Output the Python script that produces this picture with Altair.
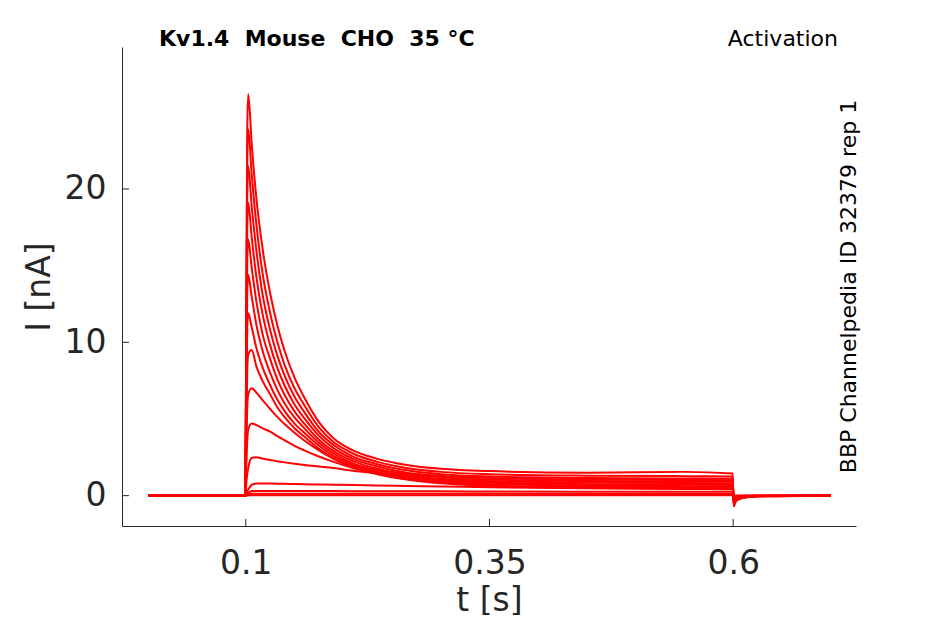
import altair as alt
import pandas as pd


# sample times (s) along the sweep
time_s = [0.0, 0.0995, 0.1005, 0.1015, 0.1025, 0.106, 0.111, 0.117, 0.125, 0.132,
          0.14, 0.15, 0.16, 0.175, 0.19, 0.21, 0.235, 0.265, 0.3, 0.35,
          0.45, 0.55, 0.5995, 0.6005, 0.603, 0.61, 0.625, 0.7]

# current (nA) of each sweep, largest first
sweep_01 = [0, 0, 12.0, 24.0, 26.2, 23.0, 19.3, 16.2, 13.2, 11.2, 9.4, 7.7, 6.4, 4.8,
            3.75, 2.95, 2.4, 2.0, 1.75, 1.6, 1.5, 1.55, 1.45, -0.7, -0.35, -0.15, -0.05, 0]
sweep_02 = [0, 0, 11.0, 22.0, 23.9, 21.0, 17.6, 14.6, 11.9, 10.1, 8.5, 7.0, 5.9, 4.45,
            3.5, 2.75, 2.2, 1.8, 1.55, 1.4, 1.3, 1.27, 1.25, -0.6, -0.3, -0.13, -0.04, 0]
sweep_03 = [0, 0, 10.0, 19.8, 21.5, 18.9, 15.9, 13.2, 10.8, 9.2, 7.8, 6.45, 5.45, 4.15,
            3.3, 2.55, 2.05, 1.65, 1.4, 1.25, 1.15, 1.12, 1.1, -0.55, -0.28, -0.12, -0.04, 0]
sweep_04 = [0, 0, 8.8, 17.6, 19.1, 16.9, 14.2, 11.9, 9.8, 8.4, 7.15, 5.95, 5.05, 3.9,
            3.1, 2.4, 1.9, 1.5, 1.3, 1.15, 1.05, 1.02, 1.0, -0.5, -0.25, -0.1, -0.03, 0]
sweep_05 = [0, 0, 7.7, 15.4, 16.7, 14.9, 12.6, 10.6, 8.9, 7.65, 6.55, 5.5, 4.7, 3.65,
            2.9, 2.25, 1.75, 1.4, 1.2, 1.05, 0.95, 0.92, 0.9, -0.45, -0.22, -0.09, -0.03, 0]
sweep_06 = [0, 0, 6.6, 13.3, 14.4, 13.0, 11.1, 9.5, 8.0, 6.95, 6.0, 5.1, 4.4, 3.45,
            2.75, 2.1, 1.65, 1.3, 1.1, 0.95, 0.85, 0.82, 0.8, -0.4, -0.2, -0.08, -0.03, 0]
sweep_07 = [0, 0, 5.5, 11.0, 11.9, 11.0, 9.6, 8.4, 7.2, 6.3, 5.5, 4.7, 4.1, 3.25,
            2.6, 2.0, 1.55, 1.2, 1.0, 0.85, 0.75, 0.72, 0.7, -0.35, -0.18, -0.07, -0.02, 0]
sweep_08 = [0, 0, 4.2, 8.2, 9.2, 9.5, 8.4, 7.5, 6.6, 5.8, 5.1, 4.4, 3.85, 3.05,
            2.45, 1.9, 1.45, 1.1, 0.9, 0.75, 0.65, 0.62, 0.6, -0.3, -0.15, -0.06, -0.02, 0]
sweep_09 = [0, 0, 3.0, 5.8, 6.6, 7.0, 6.7, 6.25, 5.65, 5.15, 4.65, 4.1, 3.6, 2.95,
            2.4, 1.85, 1.4, 1.05, 0.8, 0.65, 0.55, 0.52, 0.5, -0.25, -0.12, -0.05, -0.02, 0]
sweep_10 = [0, 0, 2.0, 3.6, 4.3, 4.7, 4.6, 4.4, 4.17, 3.9, 3.6, 3.25, 2.95, 2.55,
            2.2, 1.8, 1.45, 1.1, 0.85, 0.65, 0.5, 0.47, 0.45, -0.2, -0.1, -0.04, -0.01, 0]
sweep_11 = [0, 0, 0.8, 1.4, 1.8, 2.45, 2.5, 2.42, 2.33, 2.25, 2.17, 2.08, 2.0, 1.9,
            1.8, 1.62, 1.45, 1.25, 1.05, 0.85, 0.65, 0.58, 0.55, -0.15, -0.08, -0.03, 0, 0]
sweep_12 = [0, 0, 0.2, 0.3, 0.4, 0.7, 0.8, 0.8, 0.79, 0.78, 0.77, 0.76, 0.75, 0.73,
            0.71, 0.69, 0.66, 0.63, 0.6, 0.55, 0.48, 0.44, 0.42, -0.1, -0.05, -0.02, 0, 0]
sweep_13 = [0, 0, 0.1, 0.2, 0.2, 0.3, 0.3, 0.3, 0.3, 0.3, 0.3, 0.3, 0.3, 0.3,
            0.3, 0.29, 0.29, 0.28, 0.28, 0.27, 0.26, 0.25, 0.25, -0.05, -0.02, 0, 0, 0]
sweep_14 = [0, 0, 0.05, 0.1, 0.1, 0.12, 0.12, 0.12, 0.12, 0.12, 0.12, 0.12, 0.12, 0.12,
            0.12, 0.12, 0.12, 0.12, 0.12, 0.12, 0.11, 0.11, 0.11, 0, 0, 0, 0, 0]
sweep_15 = [0, 0, 0, 0.02, 0.03, 0.03, 0.03, 0.03, 0.03, 0.03, 0.03, 0.03, 0.03, 0.03,
            0.03, 0.03, 0.03, 0.03, 0.03, 0.03, 0.03, 0.03, 0.03, 0, 0, 0, 0, 0]

sweeps = [sweep_01, sweep_02, sweep_03, sweep_04, sweep_05, sweep_06, sweep_07, sweep_08,
          sweep_09, sweep_10, sweep_11, sweep_12, sweep_13, sweep_14, sweep_15]

x_ticks = [0.1, 0.35, 0.6]
y_ticks = [0, 10, 20]

rows = []
for n, sweep in enumerate(sweeps):
    assert len(sweep) == len(time_s)
    for t, i in zip(time_s, sweep):
        rows.append({'sweep': n, 't': t, 'i': i})
df = pd.DataFrame(rows)


W, H = 734, 479
FONT = 'DejaVu Sans'
AX = '#262626'

x_scale = alt.Scale(domain=[-0.027, 0.726], nice=False, zero=False)
y_scale = alt.Scale(domain=[-1.98, 29.26], nice=False, zero=False)

x_axis = alt.Axis(
    values=x_ticks, format='.2~f', title='t [s]', grid=False, ticks=False,
    domainColor=AX, domainWidth=1,
    labelFont=FONT, labelFontSize=33, labelColor=AX, labelPadding=21,
    titleFont=FONT, titleFontSize=33, titleFontWeight='normal', titleColor=AX,
    titleBaseline='alphabetic', titleX=W / 2, titleY=84
)
y_axis = alt.Axis(
    values=y_ticks, format='d', title='I [nA]', grid=False, ticks=False,
    domainColor=AX, domainWidth=1,
    labelFont=FONT, labelFontSize=33, labelColor=AX, labelPadding=16,
    titleFont=FONT, titleFontSize=33, titleFontWeight='normal', titleColor=AX,
    titleAngle=270, titleBaseline='alphabetic', titleX=-73, titleY=H / 2
)

traces = alt.Chart(df).mark_line(
    color='#ff0000', strokeWidth=2, interpolate='monotone', clip=True
).encode(
    x=alt.X('t:Q', scale=x_scale, axis=x_axis),
    y=alt.Y('i:Q', scale=y_scale, axis=y_axis),
    detail='sweep:N'
)

# inward tick marks (MATLAB style)
x_tick_marks = alt.Chart(pd.DataFrame({'t': x_ticks})).mark_rule(
    color=AX, strokeWidth=1
).encode(
    x=alt.X('t:Q', scale=x_scale, axis=x_axis),
    y=alt.value(H), y2=alt.value(H - 7)
)
y_tick_marks = alt.Chart(pd.DataFrame({'i': y_ticks})).mark_rule(
    color=AX, strokeWidth=1
).encode(
    y=alt.Y('i:Q', scale=y_scale, axis=y_axis),
    x=alt.value(0), x2=alt.value(7)
)

one = alt.Data(values=[{}])
head = alt.Chart(one).mark_text(
    font=FONT, fontSize=22, fontWeight='bold', align='left', baseline='alphabetic', color='black'
).encode(
    x=alt.value(37), y=alt.value(-1),
    text=alt.value('Kv1.4\u00a0\u00a0Mouse\u00a0\u00a0CHO\u00a0\u00a035\u00a0°C')
)
protocol = alt.Chart(one).mark_text(
    font=FONT, fontSize=22, align='right', baseline='alphabetic', color='black'
).encode(
    x=alt.value(716), y=alt.value(-1), text=alt.value('Activation')
)
source = alt.Chart(one).mark_text(
    font=FONT, fontSize=22, align='center', baseline='middle', angle=270, color='black'
).encode(
    x=alt.value(727), y=alt.value(H / 2), text=alt.value('BBP Channelpedia ID 32379 rep 1')
)

chart = alt.layer(
    traces, x_tick_marks, y_tick_marks, head, protocol, source
).properties(
    width=W, height=H,
    autosize=alt.AutoSizeParams(type='none'),
    padding={'left': 114, 'top': 39, 'right': 70, 'bottom': 89}
).configure_view(
    stroke=None
)

chart.save("out.html", embed_options={"renderer": "svg", "actions": False})
